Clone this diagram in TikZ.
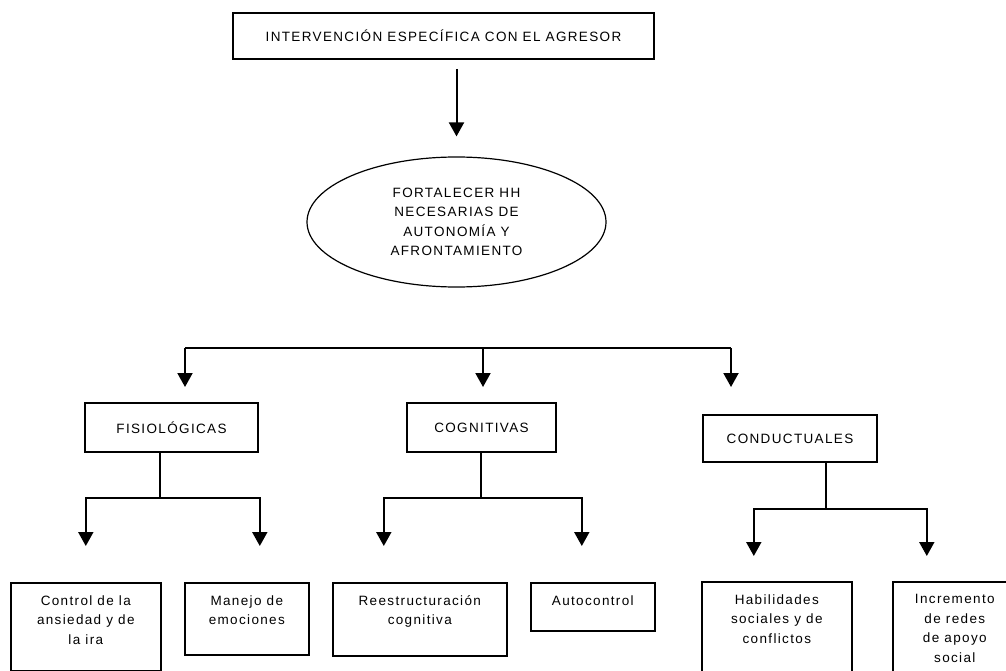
\documentclass[tikz,border=0pt]{standalone}
\usepackage{fontspec}
\setmainfont{Liberation Sans}[LetterSpace=10]
\usetikzlibrary{arrows.meta,shapes.geometric}

\tikzset{
  box/.style={draw, line width=1.6pt, inner sep=0pt},
  leaf/.style={box, anchor=north west},
  intext/.style={anchor=north, align=center, yshift=-10pt},
  arr/.style={line width=2pt, -{Triangle[width=15pt,length=14pt]}}
}

\begin{document}
\begin{tikzpicture}[x=1pt, y=-1pt, font=\fontsize{13.5}{19.5}\selectfont]

\clip (0,0) rectangle (1006,671);

\node [box, minimum width=421, minimum height=46] (top) at (443.5,36) {INTERVENCIÓN ESPECÍFICA CON EL AGRESOR};
\node [draw, ellipse, line width=1.2pt, minimum width=299, minimum height=130, inner sep=0pt, align=center] (ell) at (456.5,222) {FORTALECER HH\\NECESARIAS DE\\AUTONOMÍA Y\\AFRONTAMIENTO};
\draw [arr] ([yshift=-9pt]ell.north |- top.south) -- ([yshift=20pt]ell.north);

\node [box, minimum width=173, minimum height=49] (fis) at (171.5,427.5) {FISIOLÓGICAS};
\node [box, minimum width=149, minimum height=49] (cog) at (481.5,427.5) {COGNITIVAS};
\node [box, minimum width=174, minimum height=47] (con) at (790,438.5) {CONDUCTUALES};

\coordinate (bl) at (185,348);
\coordinate (bm) at (483,348);
\coordinate (br) at (731,348);
\draw [line width=2pt] (bl) -- (br);
\foreach \c in {bl,bm,br}
  \draw [arr] (\c) -- ++(0,39);

\node [leaf, minimum width=150, minimum height=88, label={[intext]north:Control de la\\ansiedad y de\\la ira}] (ctrl) at (10,582) {};
\node [leaf, minimum width=124, minimum height=72, label={[intext]north:Manejo de\\emociones}] (mane) at (184,582) {};
\node [leaf, minimum width=174, minimum height=73, label={[intext]north:Reestructuración\\cognitiva}] (rees) at (332,582) {};
\node [leaf, minimum width=124, minimum height=48, label={[intext]north:Autocontrol}] (auto) at (530,582) {};
\node [leaf, minimum width=150, minimum height=110, label={[intext]north:Habilidades\\sociales y de\\conflictos}] (habi) at (701,581) {};
\node [leaf, minimum width=124, minimum height=110, label={[intext]north:Incremento\\de redes\\de apoyo\\social}] (incr) at (892,581) {};

\coordinate (fj) at (160,498);
\draw [line width=2pt] (fj |- fis.south) -- (fj);
\draw [arr] (fj) -| ([yshift=36pt]ctrl.north);
\draw [arr] (fj) -| ([xshift=13pt,yshift=36pt]mane.north);

\coordinate (cj) at (481,498);
\draw [line width=2pt] (cj |- cog.south) -- (cj);
\draw [arr] (cj) -| ([xshift=-36pt,yshift=36pt]rees.north);
\draw [arr] (cj) -| ([xshift=-11pt,yshift=36pt]auto.north);

\coordinate (kj) at (826,509);
\draw [line width=2pt] (kj |- con.south) -- (kj);
\draw [arr] (kj) -| ([xshift=-23pt,yshift=25pt]habi.north);
\draw [arr] (kj) -| ([xshift=-28pt,yshift=25pt]incr.north);

\end{tikzpicture}
\end{document}
